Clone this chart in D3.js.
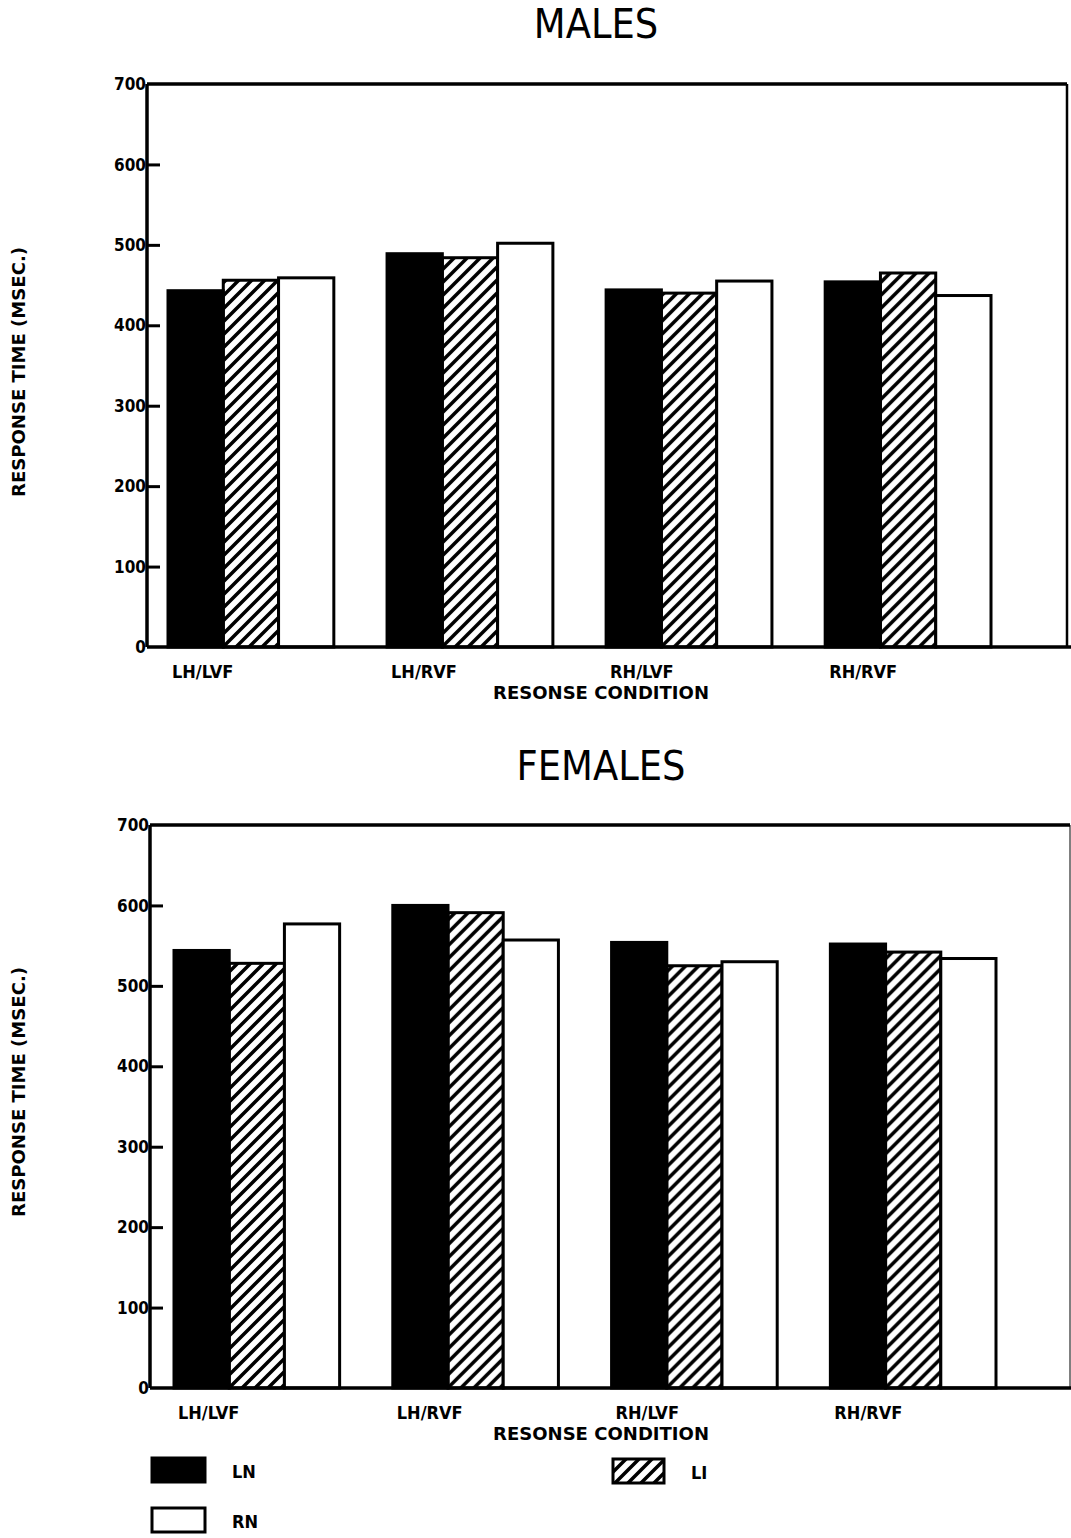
<!DOCTYPE html>
<html>
<head>
<meta charset="utf-8">
<script src="https://cdn.jsdelivr.net/npm/d3@7"></script>
<style>
  body { margin: 0; background: #fff; }
  svg text { fill: #000; }
</style>
</head>
<body>
<div id="chart"></div>
<script>
// data
const conditions = ["LH/LVF", "LH/RVF", "RH/LVF", "RH/RVF"];
const groups = ["LN", "LI", "RN"];
const yTicks = [0, 100, 200, 300, 400, 500, 600, 700];

const malesLN = [443, 489, 444, 454];
const malesLI = [456, 484, 440, 465];
const malesRN = [459, 502, 455, 437];

const femalesLN = [544, 600, 554, 552];
const femalesLI = [528, 591, 525, 542];
const femalesRN = [577, 557, 530, 534];

const width = 1071, height = 1538;

let svg = d3.select("#chart")
  .append("svg")
  .attr("width", width)
  .attr("height", height)
  .style("background-color", "#fff");

// diagonal hatch for LI
let defs = svg.append("defs");
defs.append("pattern")
    .attr("id", "hatch")
    .attr("patternUnits", "userSpaceOnUse")
    .attr("width", 13)
    .attr("height", 13)
  .append("path")
    .attr("d", "M0,13 L13,0 M-3,3 L3,-3 M10,16 L16,10")
    .attr("stroke", "#000")
    .attr("stroke-width", 3.5);

const fills = { LN: "#000", LI: "url(#hatch)", RN: "#fff" };
const labelFont = "'DejaVu Sans Condensed', 'DejaVu Sans', sans-serif";

function panel(opts) {
  let g = svg.append("g");

  let y = d3.scaleLinear().domain([0, 700]).range([opts.bottom, opts.top]);

  let x0 = d3.scaleBand()
    .domain(conditions)
    .range([opts.groupStart, opts.groupEnd])
    .paddingInner(0.243)
    .paddingOuter(0);

  let x1 = d3.scaleBand()
    .domain(groups)
    .range([0, x0.bandwidth()]);

  let rows = conditions.map((c, i) => ({
    cond: c,
    vals: groups.map(k => ({ key: k, value: opts.values[k][i] }))
  }));

  // bars
  g.append("g")
    .selectAll("g")
    .data(rows)
    .join("g")
      .attr("transform", d => `translate(${x0(d.cond)},0)`)
    .selectAll("rect")
    .data(d => d.vals)
    .join("rect")
      .attr("x", d => x1(d.key))
      .attr("y", d => y(d.value))
      .attr("width", x1.bandwidth())
      .attr("height", d => y(0) - y(d.value))
      .attr("fill", d => fills[d.key])
      .attr("stroke", "#000")
      .attr("stroke-width", 3);

  // frame: left axis, top, bottom, right
  g.append("line")
    .attr("x1", opts.left).attr("x2", opts.left)
    .attr("y1", opts.top).attr("y2", opts.bottom)
    .attr("stroke", "#000").attr("stroke-width", 3.5);
  g.append("line")
    .attr("x1", opts.left).attr("x2", opts.right)
    .attr("y1", opts.top).attr("y2", opts.top)
    .attr("stroke", "#000").attr("stroke-width", 3.5);
  g.append("line")
    .attr("x1", opts.left).attr("x2", width)
    .attr("y1", opts.bottom).attr("y2", opts.bottom)
    .attr("stroke", "#000").attr("stroke-width", 3.5);
  g.append("line")
    .attr("x1", opts.right).attr("x2", opts.right)
    .attr("y1", opts.top).attr("y2", opts.bottom)
    .attr("stroke", "#000").attr("stroke-width", opts.rightStroke);

  // y axis ticks + labels
  let yAxis = d3.axisRight(y)
    .tickValues(yTicks.slice(1, -1))
    .tickSize(13)
    .tickFormat("");
  let ax = g.append("g")
    .attr("transform", `translate(${opts.left},0)`)
    .call(yAxis);
  ax.select(".domain").remove();
  ax.selectAll(".tick line").attr("stroke", "#000").attr("stroke-width", 3);

  g.append("g")
    .selectAll("text")
    .data(yTicks)
    .join("text")
      .attr("x", opts.left - 1)
      .attr("y", d => y(d))
      .attr("dy", "0.36em")
      .attr("text-anchor", "end")
      .attr("font-family", labelFont)
      .attr("font-weight", "bold")
      .attr("font-size", 17)
      .text(d => d);

  // category labels
  g.append("g")
    .selectAll("text")
    .data(conditions)
    .join("text")
      .attr("x", d => x0(d) + 4)
      .attr("y", opts.bottom + 31)
      .attr("font-family", labelFont)
      .attr("font-weight", "bold")
      .attr("font-size", 18)
      .text(d => d);

  // x axis title
  g.append("text")
    .attr("x", 601)
    .attr("y", opts.bottom + 52)
    .attr("text-anchor", "middle")
    .attr("font-family", labelFont)
    .attr("font-weight", "bold")
    .attr("font-size", 18)
    .attr("textLength", 216)
    .attr("lengthAdjust", "spacingAndGlyphs")
    .text("RESONSE CONDITION");

  // y axis title
  g.append("text")
    .attr("transform", `translate(25,${opts.yTitleMid}) rotate(-90)`)
    .attr("text-anchor", "middle")
    .attr("font-family", labelFont)
    .attr("font-weight", "bold")
    .attr("font-size", 18)
    .attr("textLength", 250)
    .attr("lengthAdjust", "spacingAndGlyphs")
    .text("RESPONSE TIME (MSEC.)");

  // panel title
  g.append("text")
    .attr("x", opts.titleX)
    .attr("y", opts.titleY)
    .attr("text-anchor", "middle")
    .attr("font-family", "'DejaVu Sans Condensed', 'DejaVu Sans', sans-serif")
    .attr("font-size", 41)
    .text(opts.title);
}

panel({
  title: "MALES", titleX: 596, titleY: 38,
  left: 147, right: 1067, top: 84, bottom: 647,
  groupStart: 168, groupEnd: 991,
  rightStroke: 2.5, yTitleMid: 372,
  values: { LN: malesLN, LI: malesLI, RN: malesRN }
});

panel({
  title: "FEMALES", titleX: 601, titleY: 780,
  left: 150, right: 1070, top: 825, bottom: 1388,
  groupStart: 174, groupEnd: 996,
  rightStroke: 1, yTitleMid: 1092,
  values: { LN: femalesLN, LI: femalesLI, RN: femalesRN }
});

// legend
const legendItems = [
  { key: "LN", x: 152, y: 1458 },
  { key: "LI", x: 613, y: 1459 },
  { key: "RN", x: 152, y: 1508 }
];
let legend = svg.append("g")
  .selectAll("g")
  .data(legendItems)
  .join("g")
    .attr("transform", d => `translate(${d.x},${d.y})`);
legend.append("rect")
  .attr("width", d => d.key === "LI" ? 51 : 53)
  .attr("height", 24)
  .attr("fill", d => fills[d.key])
  .attr("stroke", "#000")
  .attr("stroke-width", 3);
legend.append("text")
  .attr("x", d => d.key === "LI" ? 78 : 80)
  .attr("y", 20)
  .attr("font-family", labelFont)
  .attr("font-weight", "bold")
  .attr("font-size", 18)
  .text(d => d.key);
</script>
</body>
</html>
